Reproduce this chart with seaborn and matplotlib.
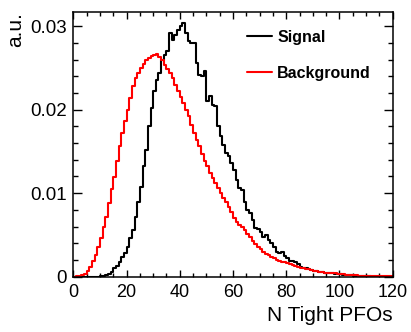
import numpy as np
import pandas as pd
import matplotlib
matplotlib.use("Agg")
import matplotlib.pyplot as plt
from matplotlib.lines import Line2D
from matplotlib.ticker import MultipleLocator
import seaborn as sns

# Normalised number of tight PFOs per event, 1-unit bins from 0 to 120
bin_edges = list(range(0, 121))

signal = [
    0.0000, 0.0000, 0.0000, 0.0000, 0.0000, 0.0000, 0.0000, 0.0000, 0.0000, 0.0000,
    0.0001, 0.0001, 0.0002, 0.0003, 0.0006, 0.0010, 0.0013, 0.0018, 0.0024, 0.0028,
    0.0036, 0.0046, 0.0056, 0.0072, 0.0090, 0.0108, 0.0132, 0.0152, 0.0180, 0.0202,
    0.0222, 0.0236, 0.0244, 0.0260, 0.0266, 0.0270, 0.0292, 0.0284, 0.0290, 0.0296,
    0.0300, 0.0304, 0.0292, 0.0282, 0.0280, 0.0280, 0.0256, 0.0242, 0.0240, 0.0246,
    0.0210, 0.0216, 0.0206, 0.0204, 0.0180, 0.0168, 0.0158, 0.0148, 0.0144, 0.0136,
    0.0128, 0.0116, 0.0106, 0.0104, 0.0090, 0.0080, 0.0076, 0.0068, 0.0058, 0.0057,
    0.0054, 0.0048, 0.0050, 0.0044, 0.0040, 0.0036, 0.0030, 0.0028, 0.0029, 0.0025,
    0.0022, 0.0019, 0.0019, 0.0017, 0.0015, 0.0012, 0.0011, 0.0010, 0.0009, 0.0008,
    0.0007, 0.0007, 0.0006, 0.0006, 0.0005, 0.0005, 0.0004, 0.0004, 0.0003, 0.0003,
    0.0003, 0.0002, 0.0002, 0.0002, 0.0002, 0.0001, 0.0001, 0.0001, 0.0001, 0.0001,
    0.0001, 0.0001, 0.0000, 0.0000, 0.0000, 0.0000, 0.0000, 0.0000, 0.0000, 0.0000,
]

background = [
    0.0000, 0.0001, 0.0001, 0.0002, 0.0003, 0.0007, 0.0012, 0.0019, 0.0026, 0.0036,
    0.0046, 0.0059, 0.0072, 0.0088, 0.0105, 0.0119, 0.0138, 0.0156, 0.0172, 0.0186,
    0.0200, 0.0214, 0.0228, 0.0238, 0.0244, 0.0250, 0.0255, 0.0259, 0.0262, 0.0264,
    0.0266, 0.0267, 0.0263, 0.0260, 0.0254, 0.0249, 0.0244, 0.0238, 0.0230, 0.0222,
    0.0215, 0.0208, 0.0200, 0.0192, 0.0182, 0.0172, 0.0164, 0.0156, 0.0147, 0.0138,
    0.0132, 0.0124, 0.0118, 0.0112, 0.0106, 0.0100, 0.0094, 0.0089, 0.0083, 0.0077,
    0.0070, 0.0066, 0.0062, 0.0060, 0.0056, 0.0051, 0.0047, 0.0043, 0.0039, 0.0036,
    0.0033, 0.0030, 0.0027, 0.0026, 0.0024, 0.0022, 0.0020, 0.0019, 0.0018, 0.0017,
    0.0016, 0.0015, 0.0014, 0.0013, 0.0012, 0.0011, 0.0010, 0.0009, 0.0009, 0.0008,
    0.0007, 0.0007, 0.0006, 0.0006, 0.0005, 0.0005, 0.0004, 0.0004, 0.0004, 0.0003,
    0.0003, 0.0003, 0.0002, 0.0002, 0.0002, 0.0002, 0.0002, 0.0001, 0.0001, 0.0001,
    0.0001, 0.0001, 0.0001, 0.0001, 0.0001, 0.0001, 0.0001, 0.0001, 0.0001, 0.0001,
]

series_names = ["Signal", "Background"]
series_colors = ["#000000", "#ff0000"]

x_ticks = [0, 20, 40, 60, 80, 100, 120]
y_ticks = [0.0, 0.01, 0.02, 0.03]
y_tick_labels = ["0", "0.01", "0.02", "0.03"]

x_label = "N Tight PFOs"
y_label = "a.u."

sns.set_style("ticks")
plt.rcParams["font.family"] = ["Liberation Sans", "DejaVu Sans"]
plt.rcParams["text.color"] = "black"
plt.rcParams["axes.labelcolor"] = "black"
plt.rcParams["xtick.color"] = "black"
plt.rcParams["ytick.color"] = "black"

centers = np.array(bin_edges[:-1]) + 0.5
df = pd.concat([
    pd.DataFrame({"n": centers, "w": signal, "sample": series_names[0]}),
    pd.DataFrame({"n": centers, "w": background, "sample": series_names[1]}),
], ignore_index=True)

fig = plt.figure(figsize=(4.11, 3.32), dpi=100)
ax = fig.add_axes([0.1784, 0.1666, 0.9555 - 0.1784, 0.9639 - 0.1666])

for name, color in zip(series_names, series_colors):
    sns.histplot(data=df[df["sample"] == name], x="n", weights="w",
                 bins=bin_edges, element="step", fill=False,
                 color=color, linewidth=1.5, ax=ax)

ax.set_xlim(0, 120)
ax.set_ylim(0, 0.0317)
ax.set_xticks(x_ticks)
ax.set_yticks(y_ticks)
ax.set_yticklabels(y_tick_labels)
ax.xaxis.set_minor_locator(MultipleLocator(5))
ax.yaxis.set_minor_locator(MultipleLocator(0.002))

ax.tick_params(axis="both", which="both", direction="in",
               top=True, right=True, colors="black", labelcolor="black",
               width=1.0)
ax.tick_params(axis="x", which="major", length=5, labelsize=13, pad=5)
ax.tick_params(axis="x", which="minor", length=3)
ax.tick_params(axis="y", which="major", length=6.5, labelsize=13.5, pad=4.5)
ax.tick_params(axis="y", which="minor", length=3.6)
for side in ["left", "right", "top", "bottom"]:
    ax.spines[side].set_visible(True)
    ax.spines[side].set_linewidth(1.1)
    ax.spines[side].set_color("black")

ax.set_xlabel(x_label, fontsize=15, loc="right", labelpad=4, color="black")
ax.set_ylabel(y_label, fontsize=15, loc="top", labelpad=4, color="black")

handles = [Line2D([], [], color=c, linewidth=1.5) for c in series_colors]
leg = fig.legend(handles, series_names, loc="upper left",
                 bbox_to_anchor=(0.600, 0.9096), frameon=False,
                 borderpad=0, borderaxespad=0, handlelength=1.56,
                 handletextpad=0.35, labelspacing=1.3,
                 prop={"size": 11.5, "weight": "bold"}, labelcolor="black")

fig.savefig("out.png", dpi=100, facecolor="white")
